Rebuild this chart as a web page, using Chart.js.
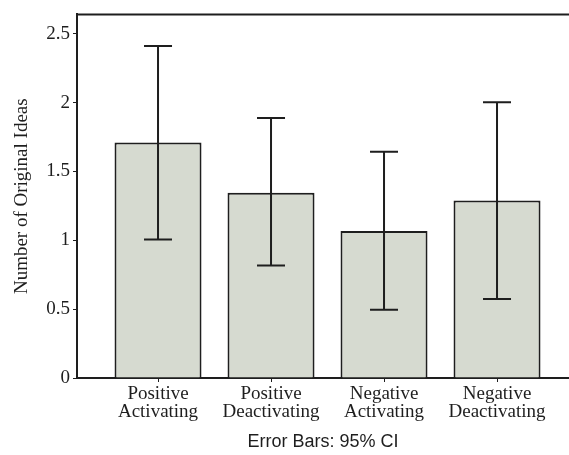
<!DOCTYPE html>
<html>
<head>
<meta charset="utf-8">
<script src="https://cdn.jsdelivr.net/npm/chart.js@4"></script>
<style>
html,body{margin:0;padding:0;background:#fff;}
#wrap{width:569px;height:455px;position:relative;}
</style>
</head>
<body>
<div id="wrap"><canvas id="c" width="569" height="455"></canvas></div>
<script>
const categories = [["Positive","Activating"],["Positive","Deactivating"],["Negative","Activating"],["Negative","Deactivating"]];
const means = [1.71, 1.345, 1.068, 1.288];
const ciLow = [1.006, 0.816, 0.496, 0.574];
const ciHigh = [2.41, 1.888, 1.642, 2.002];
const yTicks = [0, 0.5, 1, 1.5, 2, 2.5];
const yTickLabels = ["0", "0.5", "1", "1.5", "2", "2.5"];
const yTitle = "Number of Original Ideas";
const xTitle = "Error Bars: 95% CI";

const ink = '#1e1e1e';
const serif = "'Liberation Serif', 'DejaVu Serif', serif";

const framePlugin = {
  id: 'frame',
  afterDatasetsDraw(chart) {
    const {ctx, chartArea, scales} = chart;
    ctx.save();
    ctx.strokeStyle = ink;
    ctx.lineWidth = 2;
    ctx.beginPath();
    ctx.moveTo(chartArea.left, chartArea.top);
    ctx.lineTo(chartArea.right, chartArea.top);
    ctx.stroke();
    const xs = scales.x, ys = scales.y;
    means.forEach((m, i) => {
      const x = xs.getPixelForValue(i + 1);
      const yl = ys.getPixelForValue(ciLow[i]);
      const yh = ys.getPixelForValue(ciHigh[i]);
      ctx.beginPath();
      ctx.moveTo(x, yl); ctx.lineTo(x, yh);
      ctx.moveTo(x - 14, yh); ctx.lineTo(x + 14, yh);
      ctx.moveTo(x - 14, yl); ctx.lineTo(x + 14, yl);
      ctx.stroke();
    });
    ctx.restore();
  }
};

new Chart(document.getElementById('c'), {
  type: 'bar',
  data: {
    datasets: [{
      data: means.map((v, i) => ({x: i + 1, y: v})),
      backgroundColor: '#d6dad0',
      borderColor: ink,
      borderWidth: 2,
      borderSkipped: 'bottom',
      barPercentage: 0.77,
      categoryPercentage: 1
    }]
  },
  options: {
    responsive: false,
    animation: false,
    layout: {padding: {top: 7, right: 0, bottom: 0, left: 0}},
    plugins: {legend: {display: false}, tooltip: {enabled: false}},
    scales: {
      x: {
        type: 'linear',
        offset: false,
        min: 0.283,
        max: 4.637,
        afterBuildTicks: s => { s.ticks = categories.map((c, i) => ({value: i + 1})); },
        afterFit: s => { s.height = 77; },
        grid: {display: true, offset: false, drawOnChartArea: false, drawTicks: true, tickLength: 4, color: ink, lineWidth: 1},
        border: {display: true, color: ink, width: 2},
        ticks: {
          callback: (v) => categories[Math.round(v) - 1],
          font: {family: serif, size: 19, lineHeight: 0.95},
          color: ink,
          padding: 3,
          maxRotation: 0,
          autoSkip: false
        },
        title: {
          display: true,
          text: xTitle,
          font: {family: "'Liberation Sans', Arial, sans-serif", size: 18},
          color: ink,
          padding: {top: 2, bottom: 2}
        }
      },
      y: {
        min: 0,
        max: 2.64,
        afterBuildTicks: s => { s.ticks = yTicks.map(v => ({value: v})); },
        afterFit: s => { s.width = 77; },
        grid: {display: true, drawOnChartArea: false, drawTicks: true, tickLength: 4, color: ink, lineWidth: 1},
        border: {display: true, color: ink, width: 2},
        ticks: {
          callback: (v) => yTickLabels[yTicks.indexOf(v)],
          font: {family: serif, size: 19},
          color: ink,
          padding: 3
        },
        title: {
          display: true,
          text: yTitle,
          font: {family: serif, size: 19},
          color: ink,
          padding: {top: 11, bottom: 0}
        }
      }
    }
  },
  plugins: [framePlugin]
});
</script>
</body>
</html>
